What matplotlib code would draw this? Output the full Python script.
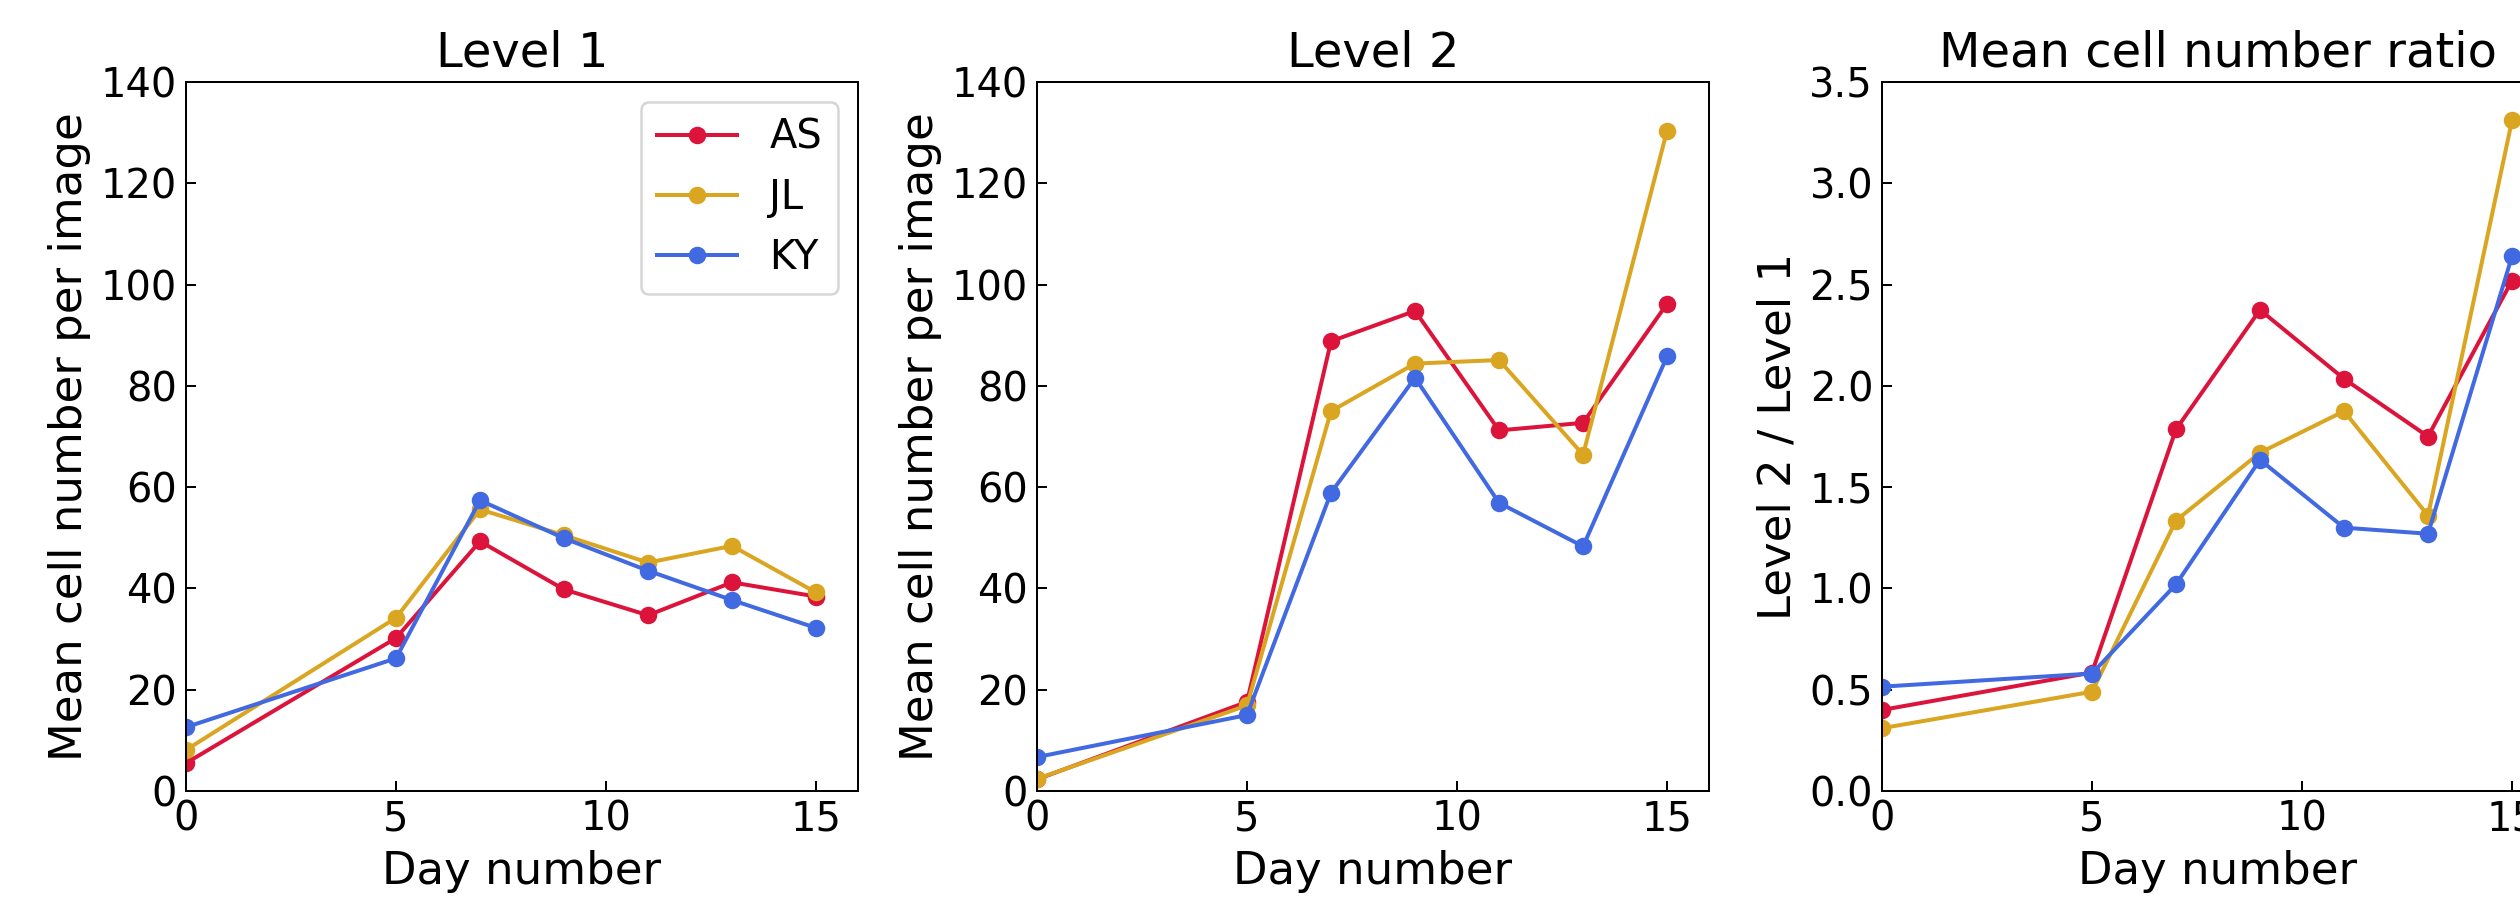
import numpy as np
import matplotlib
matplotlib.use("Agg")
import matplotlib.pyplot as plt

plt.rcParams.update({
    "font.family": "DejaVu Sans",
    "font.size": 16,
    "axes.labelsize": 18,
    "xtick.direction": "in",
    "ytick.direction": "in",
    "xtick.major.size": 4,
    "ytick.major.size": 4,
    "lines.linewidth": 1.6,
    "lines.markersize": 6,
})

# Datos
days = [0, 5, 7, 9, 11, 13, 15]
observers = ["AS", "JL", "KY"]
colors = ["crimson", "goldenrod", "royalblue"]

level1_AS = [5.5, 30.2, 49.3, 39.8, 34.7, 41.2, 38.4]
level1_JL = [8.1, 34.2, 55.6, 50.5, 45.1, 48.4, 39.2]
level1_KY = [12.6, 26.2, 57.4, 49.9, 43.5, 37.7, 32.2]

level2_AS = [2.3, 17.6, 88.8, 94.8, 71.2, 72.7, 96.2]
level2_JL = [2.4, 16.9, 75.0, 84.4, 85.1, 66.4, 130.4]
level2_KY = [6.7, 15.0, 58.9, 81.6, 56.9, 48.3, 85.8]

ratio_AS = [0.40, 0.585, 1.785, 2.375, 2.035, 1.75, 2.52]
ratio_JL = [0.31, 0.49, 1.335, 1.67, 1.875, 1.36, 3.31]
ratio_KY = [0.515, 0.58, 1.02, 1.635, 1.30, 1.27, 2.64]

titles = ["Level 1", "Level 2", "Mean cell number ratio"]
ylabels = ["Mean cell number per image", "Mean cell number per image",
           "Level 2 / Level 1"]

fig = plt.figure(figsize=(14, 5), dpi=180)
lefts = [0.0738, 0.4115, 0.7468]
axes = [fig.add_axes([l, 0.1211, 0.2667, 0.7878]) for l in lefts]

panels = [
    [level1_AS, level1_JL, level1_KY],
    [level2_AS, level2_JL, level2_KY],
    [ratio_AS, ratio_JL, ratio_KY],
]

for i, (ax, series) in enumerate(zip(axes, panels)):
    for name, vals, c in zip(observers, series, colors):
        ax.plot(days, vals, marker="o", color=c, label=name)
    ax.set_xlim(0, 16)
    ax.set_xticks([0, 5, 10, 15])
    if i < 2:
        ax.set_ylim(0, 140)
        ax.set_yticks(np.arange(0, 141, 20))
    else:
        ax.set_ylim(0, 3.5)
        ax.set_yticks(np.arange(0, 3.51, 0.5))
    ax.set_title(titles[i])
    ax.set_xlabel("Day number")
    ax.set_ylabel(ylabels[i])

axes[0].legend(loc="upper right")

fig.savefig("out.png", dpi=180)
